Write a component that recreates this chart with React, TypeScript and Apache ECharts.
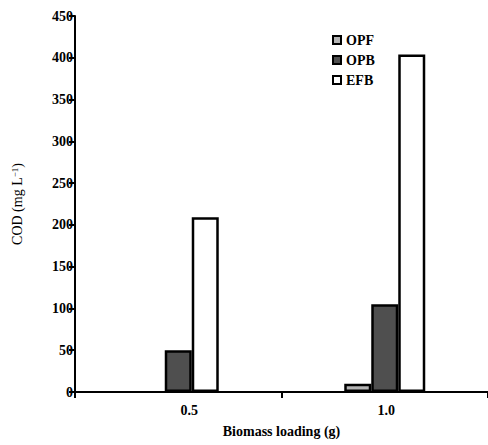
import React, { useEffect, useRef } from "react";
import * as echarts from "echarts";

const categories = ["0.5", "1.0"];
const opf = [0, 10];
const opb = [50, 105];
const efb = [209, 404];
const yTicks = { min: 0, max: 450, interval: 50 };

const FONT = "'Liberation Serif', 'DejaVu Serif', serif";

export default function App() {
  const ref = useRef<HTMLDivElement>(null);
  useEffect(() => {
    if (!ref.current) return;
    const chart = echarts.init(ref.current, undefined, { renderer: "svg" });
    const barStyle = (color: string) => ({
      color,
      borderColor: "#000",
      borderWidth: 2.5,
    });
    const withZero = (arr: number[]) =>
      arr.map((v) => (v === 0 ? { value: v, itemStyle: { borderWidth: 0 } } : v));
    chart.setOption({
      animation: false,
      backgroundColor: "#fff",
      grid: { left: 75, top: 16, width: 420, bottom: 53, containLabel: false },
      legend: {
        orient: "vertical",
        left: 327,
        top: 28,
        itemWidth: 8,
        itemHeight: 8,
        itemGap: 6,
        icon: "rect",
        itemStyle: { borderColor: "#000", borderWidth: 2 },
        textStyle: { fontFamily: FONT, fontSize: 14, fontWeight: "bold", color: "#000" },
        data: ["OPF", "OPB", "EFB"],
      },
      xAxis: {
        type: "category",
        data: categories,
        axisLine: { lineStyle: { color: "#000", width: 2 } },
        axisTick: { show: true, length: 6, lineStyle: { color: "#000", width: 2 } },
        axisLabel: {
          color: "#000",
          fontFamily: FONT,
          fontSize: 14,
          fontWeight: "bold",
          margin: 11,
          formatter: (v: string) => (v === "0.5" ? "{a|" + v + "}" : "{b|" + v + "}"),
          rich: {
            a: { fontFamily: FONT, fontSize: 14, fontWeight: "bold", color: "#000", padding: [0, 0, 0, 22] },
            b: { fontFamily: FONT, fontSize: 14, fontWeight: "bold", color: "#000", padding: [0, 0, 0, 3] },
          },
        },
        name: "Biomass loading (g)",
        nameLocation: "middle",
        nameGap: 32,
        nameTextStyle: { fontFamily: FONT, fontSize: 14, fontWeight: "bold", color: "#000" },
      },
      yAxis: {
        type: "value",
        min: yTicks.min,
        max: yTicks.max,
        interval: yTicks.interval,
        splitLine: { show: false },
        axisLine: { show: true, lineStyle: { color: "#000", width: 2 } },
        axisTick: { show: true, length: 6, lineStyle: { color: "#000", width: 2 } },
        axisLabel: { color: "#000", fontFamily: FONT, fontSize: 14, fontWeight: "bold", margin: 2 },
        name: "COD (mg L{sup|−1})",
        nameLocation: "middle",
        nameGap: 50,
        nameRotate: 90,
        nameTextStyle: {
          fontFamily: FONT,
          fontSize: 14,
          color: "#000",
          rich: {
            sup: { fontFamily: FONT, fontSize: 9, color: "#000", verticalAlign: "top", padding: [0, 0, 6, 0] },
          },
        },
      },
      series: [
        { name: "OPF", type: "bar", data: withZero(opf), barWidth: 27, barGap: "0%", itemStyle: barStyle("#b4b4b4") },
        { name: "OPB", type: "bar", data: withZero(opb), barWidth: 27, barGap: "0%", itemStyle: barStyle("#4f4f4f") },
        { name: "EFB", type: "bar", data: withZero(efb), barWidth: 27, barGap: "0%", itemStyle: barStyle("#ffffff") },
      ],
    });
    return () => chart.dispose();
  }, []);
  return (
    <div
      ref={ref}
      style={{ position: "fixed", left: 0, top: 0, width: 488, height: 445, background: "#fff" }}
    />
  );
}
